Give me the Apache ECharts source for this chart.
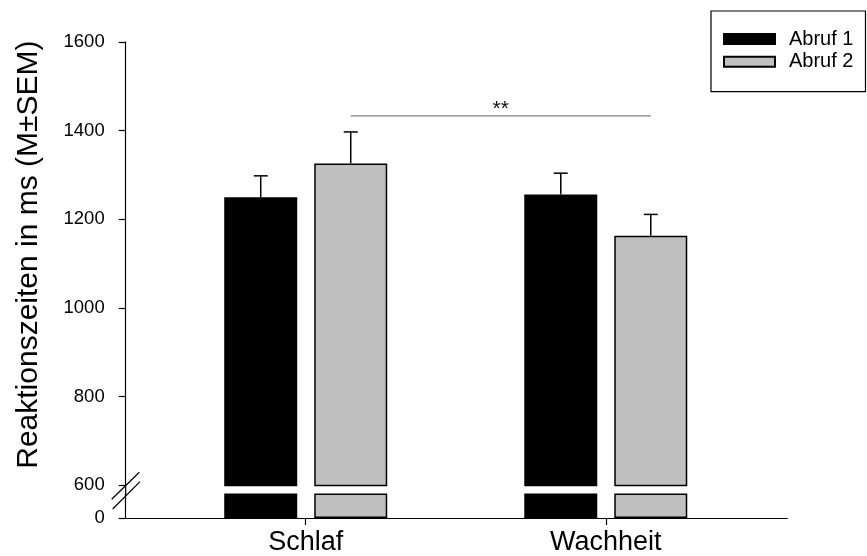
<!DOCTYPE html>
<html>
<head>
<meta charset="utf-8">
<script src="https://cdn.jsdelivr.net/npm/echarts@6/dist/echarts.min.js"></script>
<style>html,body{margin:0;padding:0;background:#fff}#c{width:867px;height:556px}</style>
</head>
<body>
<div id="c"></div>
<script>
// ---- data ----
const categories = ['Schlaf', 'Wachheit'];
const seriesNames = ['Abruf 1', 'Abruf 2'];
const abruf1 = [1250, 1256];
const abruf2 = [1326, 1163];
const sem1 = [48, 48];
const sem2 = [71, 48];
const upperTicks = [600, 800, 1000, 1200, 1400, 1600];
const lowerTicks = [0];
const sigPair = [0, 1];      // Schlaf Abruf 2 vs Wachheit Abruf 2
const sigValue = 1433;
const sigLabel = '**';
const yTitle = 'Reaktionszeiten in ms (M±SEM)';

// ---- style constants ----
const FONT = 'Liberation Sans, Arial, Helvetica, sans-serif';
const BAR_W = 73, GAP_PX = 17;
const OFF = (BAR_W + GAP_PX) / 2;
const GRID_L = 125.7, GRID_R = 867 - 787.3;
const X_MIN = -0.6, X_MAX = 1.605;

const chart = echarts.init(document.getElementById('c'), null, {renderer: 'canvas'});

const barData = arr => arr.map((v, i) => [i, v]);
const errData = [];
[abruf1, abruf2].forEach((arr, s) => {
  const sem = s === 0 ? sem1 : sem2;
  arr.forEach((v, i) => errData.push([i, v, sem[i], s]));
});

const barStyle = [
  {color: '#000000', borderColor: '#000000', borderWidth: 1.5},
  {color: '#c0c0c0', borderColor: '#000000', borderWidth: 1.5}
];

function xAxisCfg(gi, show) {
  return {
    type: 'value', gridIndex: gi, min: X_MIN, max: X_MAX,
    show: show,
    splitLine: {show: false},
    axisLine: {show: true, onZero: false, lineStyle: {color: '#000', width: 1.2}},
    axisTick: {show: true, length: 7, inside: false, customValues: [0, 1], lineStyle: {color: '#000', width: 1.2}},
    axisLabel: {
      customValues: [0, 1], margin: 11,
      formatter: v => categories[Math.round(v)] || '',
      fontSize: 27, fontFamily: FONT, color: '#000'
    }
  };
}

const option = {
  animation: false,
  backgroundColor: '#fff',
  grid: [
    {left: GRID_L, right: GRID_R, top: 41.9, bottom: 556 - 485.4},
    {left: GRID_L, right: GRID_R, top: 494.3, bottom: 556 - 519.3}
  ],
  xAxis: [xAxisCfg(0, false), xAxisCfg(1, true)],
  yAxis: [
    {
      type: 'value', gridIndex: 0, min: upperTicks[0], max: upperTicks[upperTicks.length - 1], interval: 200,
      splitLine: {show: false},
      axisLine: {show: true, onZero: false, lineStyle: {color: '#000', width: 1.2}},
      axisTick: {show: true, length: 7, lineStyle: {color: '#000', width: 1.2}},
      axisLabel: {margin: 21, fontSize: 18.5, fontFamily: FONT, color: '#000', formatter: v => String(v)},
      name: yTitle, nameLocation: 'middle', nameGap: 82,
      nameTextStyle: {fontSize: 30, fontFamily: FONT, color: '#000', padding: [0, 0, 0, 18]}
    },
    {
      type: 'value', gridIndex: 1, min: 0, max: 50,
      splitLine: {show: false},
      axisLine: {show: true, onZero: false, lineStyle: {color: '#000', width: 1.2}},
      axisTick: {show: true, length: 7, customValues: lowerTicks, lineStyle: {color: '#000', width: 1.2}},
      axisLabel: {customValues: lowerTicks, margin: 21, fontSize: 18.5, fontFamily: FONT, color: '#000', formatter: v => String(v)}
    }
  ],
  legend: {
    orient: 'vertical', left: 711, top: 11,
    padding: [17.5, 12, 19.5, 12],
    itemWidth: 51, itemHeight: 10, itemGap: 1.7,
    borderColor: '#000', borderWidth: 1.2, borderRadius: 0,
    icon: 'rect',
    selectedMode: false,
    textStyle: {fontSize: 20, fontFamily: FONT, color: '#000', lineHeight: 21, padding: [0, 0, 0, 9]},
    data: seriesNames
  },
  series: [
    {type: 'bar', name: seriesNames[0], xAxisIndex: 0, yAxisIndex: 0, data: barData(abruf1), barWidth: BAR_W, barGap: (GAP_PX / BAR_W * 100) + '%', itemStyle: barStyle[0], clip: true, silent: true},
    {type: 'bar', name: seriesNames[1], xAxisIndex: 0, yAxisIndex: 0, data: barData(abruf2), barWidth: BAR_W, barGap: (GAP_PX / BAR_W * 100) + '%', itemStyle: barStyle[1], clip: true, silent: true},
    {type: 'bar', name: seriesNames[0], xAxisIndex: 1, yAxisIndex: 1, data: barData(abruf1), barWidth: BAR_W, barGap: (GAP_PX / BAR_W * 100) + '%', itemStyle: barStyle[0], clip: true, silent: true},
    {type: 'bar', name: seriesNames[1], xAxisIndex: 1, yAxisIndex: 1, data: barData(abruf2), barWidth: BAR_W, barGap: (GAP_PX / BAR_W * 100) + '%', itemStyle: barStyle[1], clip: true, silent: true},
    {
      type: 'custom', xAxisIndex: 0, yAxisIndex: 0, data: errData, silent: true, z: 5,
      encode: {x: 0, y: 1},
      renderItem: (params, api) => {
        const i = api.value(0), v = api.value(1), e = api.value(2), s = api.value(3);
        const b = api.coord([i, v]);
        const t = api.coord([i, v + e]);
        const x = b[0] + (s === 0 ? -OFF : OFF);
        const st = {stroke: '#000', lineWidth: 1.5};
        return {type: 'group', children: [
          {type: 'line', shape: {x1: x, y1: b[1], x2: x, y2: t[1]}, style: st},
          {type: 'line', shape: {x1: x - 7, y1: t[1], x2: x + 7, y2: t[1]}, style: st}
        ]};
      }
    },
    {
      type: 'custom', xAxisIndex: 0, yAxisIndex: 0, data: [[sigPair[0], sigPair[1], sigValue]], silent: true, z: 5,
      encode: {x: [0, 1], y: 2},
      renderItem: (params, api) => {
        const p0 = api.coord([api.value(0), api.value(2)]);
        const p1 = api.coord([api.value(1), api.value(2)]);
        const x0 = p0[0] + OFF, x1 = p1[0] + OFF;
        return {type: 'group', children: [
          {type: 'line', shape: {x1: x0, y1: p0[1], x2: x1, y2: p1[1]}, style: {stroke: '#808080', lineWidth: 1.2}},
          {type: 'text', style: {text: sigLabel, x: (x0 + x1) / 2, y: p0[1] + 4, align: 'center', verticalAlign: 'bottom', fontSize: 21, fontFamily: FONT, fill: '#111'}}
        ]};
      }
    }
  ],
  graphic: [
    // axis continuation through the break and the break marks
    {type: 'line', silent: true, shape: {x1: 125.7, y1: 485.4, x2: 125.7, y2: 494.3}, style: {stroke: '#000', lineWidth: 1.2}},
    {type: 'line', silent: true, shape: {x1: 111.7, y1: 499.3, x2: 139.3, y2: 472.3}, style: {stroke: '#000', lineWidth: 1.2}},
    {type: 'line', silent: true, shape: {x1: 112.7, y1: 509, x2: 140, y2: 481.7}, style: {stroke: '#000', lineWidth: 1.2}}
  ]
};
chart.setOption(option);
</script>
</body>
</html>
